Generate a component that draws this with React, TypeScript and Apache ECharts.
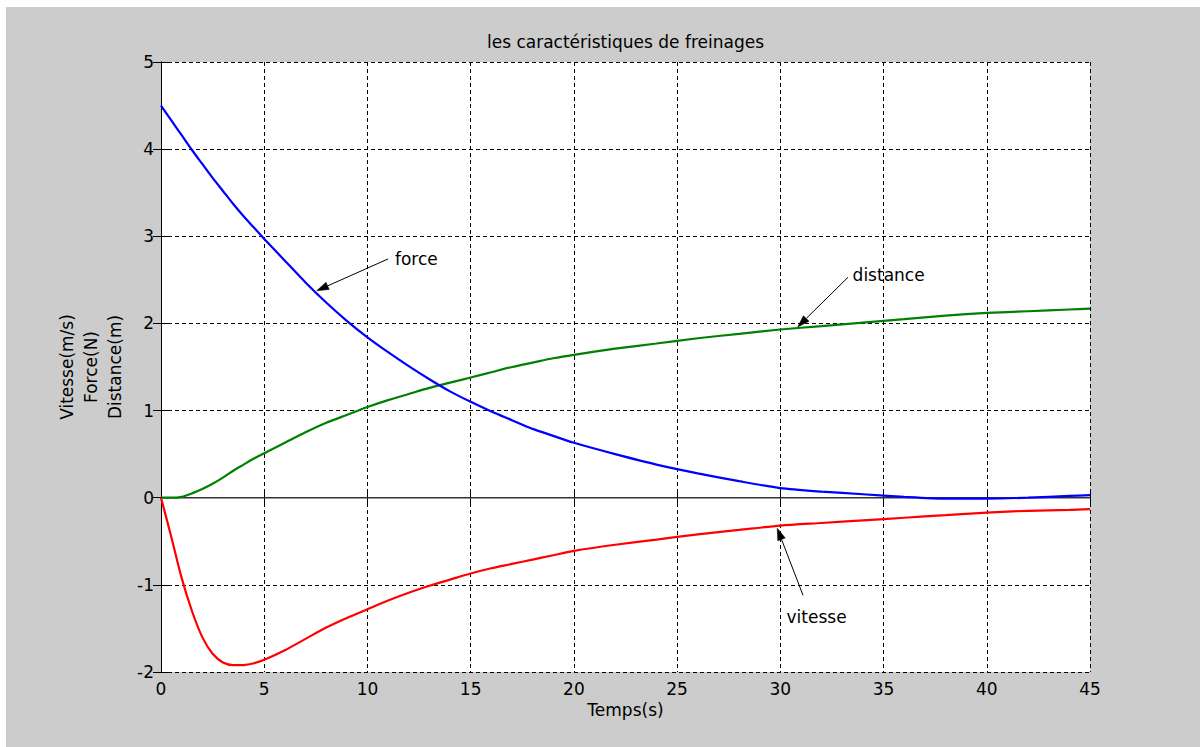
import React, { useEffect, useRef } from "react";
import * as echarts from "echarts";

// ---- data ----
const time = [0, 0.5, 1, 1.5, 2, 2.5, 3, 3.5, 4, 4.5, 5, 6, 7, 8, 9, 10, 11, 12, 13, 14, 15, 16, 17, 18, 19, 20, 22, 24, 26, 28, 30, 32, 34, 36, 38, 40, 42, 44, 45];
const force = [4.5, 4.33, 4.16, 3.99, 3.83, 3.67, 3.52, 3.37, 3.23, 3.1, 2.97, 2.72, 2.47, 2.24, 2.03, 1.84, 1.67, 1.51, 1.36, 1.22, 1.1, 0.99, 0.89, 0.79, 0.71, 0.63, 0.5, 0.38, 0.28, 0.19, 0.11, 0.07, 0.04, 0.01, -0.01, -0.01, 0.0, 0.02, 0.03];
const distance = [0, 0.0, 0.01, 0.05, 0.1, 0.16, 0.23, 0.31, 0.38, 0.45, 0.51, 0.63, 0.75, 0.86, 0.95, 1.04, 1.12, 1.19, 1.26, 1.32, 1.38, 1.44, 1.5, 1.55, 1.6, 1.64, 1.71, 1.77, 1.83, 1.88, 1.93, 1.97, 2.01, 2.05, 2.09, 2.12, 2.14, 2.16, 2.17];
const vitesse = [0, -0.45, -0.92, -1.3, -1.6, -1.79, -1.89, -1.92, -1.92, -1.9, -1.86, -1.75, -1.62, -1.49, -1.38, -1.28, -1.18, -1.09, -1.01, -0.94, -0.87, -0.81, -0.76, -0.71, -0.66, -0.61, -0.54, -0.48, -0.42, -0.37, -0.32, -0.29, -0.26, -0.23, -0.2, -0.17, -0.15, -0.14, -0.13];
const zeroLine = [[0, 0], [45, 0]];

const titleText = "les caractéristiques de freinages";
const xName = "Temps(s)";
const yNames = ["Vitesse(m/s)", "Force(N)", "Distance(m)"];

// annotation arrows in data coordinates: text anchor, arrow tail, arrow tip
const annotations = [
  { label: "force", text: [11.33, 2.74], tail: [11.0, 2.74], tip: [7.54, 2.375] },
  { label: "distance", text: [33.5, 2.555], tail: [33.28, 2.53], tip: [30.84, 1.96] },
  { label: "vitesse", text: [30.3, -1.37], tail: [31.1, -1.12], tip: [29.85, -0.35] },
];

const FONT = '17px "DejaVu Sans"';

export default function App() {
  const ref = useRef<HTMLDivElement>(null);

  useEffect(() => {
    const chart = echarts.init(ref.current!, null, { renderer: "svg" });
    const pair = (ys: number[]) => time.map((t, i) => [t, ys[i]]);
    const dashed = { show: true, lineStyle: { color: "#000", type: [4, 3] as any, width: 1 } };
    const axisLine = { show: true, lineStyle: { color: "#000", width: 1 } };
    const tick = { show: true, inside: true, length: 8, lineStyle: { color: "#000" } };
    const label = { color: "#000", fontFamily: "DejaVu Sans", fontSize: 17 };

    chart.setOption({
      animation: false,
      backgroundColor: "#cccccc",
      grid: { left: 155, right: 110, top: 55, bottom: 75, show: true, backgroundColor: "#ffffff", borderWidth: 0 },
      xAxis: [
        { type: "value", min: 0, max: 45, interval: 5, position: "bottom", axisLine, axisTick: tick, splitLine: dashed,
          axisLabel: { ...label, margin: 8 } },
        { type: "value", min: 0, max: 45, interval: 5, position: "top", axisLine, axisTick: tick, splitLine: { show: false },
          axisLabel: { show: false } },
      ],
      yAxis: [
        { type: "value", min: -2, max: 5, interval: 1, position: "left", axisLine, axisTick: tick, splitLine: dashed,
          axisLabel: { ...label, margin: 7 } },
        { type: "value", min: -2, max: 5, interval: 1, position: "right", axisLine, axisTick: tick, splitLine: { show: false },
          axisLabel: { show: false } },
      ],
      series: [
        { type: "line", data: zeroLine, showSymbol: false, silent: true, lineStyle: { color: "#333", width: 1.5 } },
        { name: "distance", type: "line", data: pair(distance), smooth: 0.25, showSymbol: false, lineStyle: { color: "#008000", width: 2.2 } },
        { name: "vitesse", type: "line", data: pair(vitesse), smooth: 0.25, showSymbol: false, lineStyle: { color: "#ff0000", width: 2.2 } },
        { name: "force", type: "line", data: pair(force), smooth: 0.25, showSymbol: false, lineStyle: { color: "#0000ff", width: 2.2 } },
      ],
    });

    const toPx = (p: number[]) => chart.convertToPixel({ seriesIndex: 1 }, p) as number[];
    const tl = toPx([0, 5]);
    const br = toPx([45, -2]);
    const cx = (tl[0] + br[0]) / 2;
    const cy = (tl[1] + br[1]) / 2;

    const graphics: any[] = [];
    graphics.push({ type: "text", x: cx, y: tl[1] - 20, style: { text: titleText, font: FONT, fill: "#000", align: "center", verticalAlign: "middle" } });
    graphics.push({ type: "text", x: cx, y: br[1] + 38, style: { text: xName, font: FONT, fill: "#000", align: "center", verticalAlign: "middle" } });
    yNames.forEach((n, i) => {
      graphics.push({ type: "text", x: tl[0] - 94.5 + i * 24, y: cy, rotation: Math.PI / 2,
        style: { text: n, font: FONT, fill: "#000", align: "center", verticalAlign: "middle" } });
    });

    annotations.forEach((a) => {
      const t = toPx(a.text);
      const s = toPx(a.tail);
      const e = toPx(a.tip);
      const dx = e[0] - s[0];
      const dy = e[1] - s[1];
      const len = Math.hypot(dx, dy);
      const ux = dx / len, uy = dy / len;
      const hl = 12, hw = 4;
      const bx = e[0] - ux * hl, by = e[1] - uy * hl;
      graphics.push({ type: "line", shape: { x1: s[0], y1: s[1], x2: bx, y2: by }, style: { stroke: "#000", lineWidth: 1 } });
      graphics.push({ type: "polygon", shape: { points: [[e[0], e[1]], [bx - uy * hw, by + ux * hw], [bx + uy * hw, by - ux * hw]] },
        style: { fill: "#000", stroke: "#000", lineWidth: 0.5 } });
      graphics.push({ type: "text", x: t[0], y: t[1], style: { text: a.label, font: FONT, fill: "#000", align: "left", verticalAlign: "middle" } });
    });

    chart.setOption({ graphic: graphics });
    return () => chart.dispose();
  }, []);

  return (
    <div style={{ position: "fixed", left: 0, top: 0, width: 1200, height: 747, background: "#ffffff" }}>
      <div ref={ref} style={{ position: "absolute", left: 6, top: 7, width: 1194, height: 740 }} />
    </div>
  );
}
